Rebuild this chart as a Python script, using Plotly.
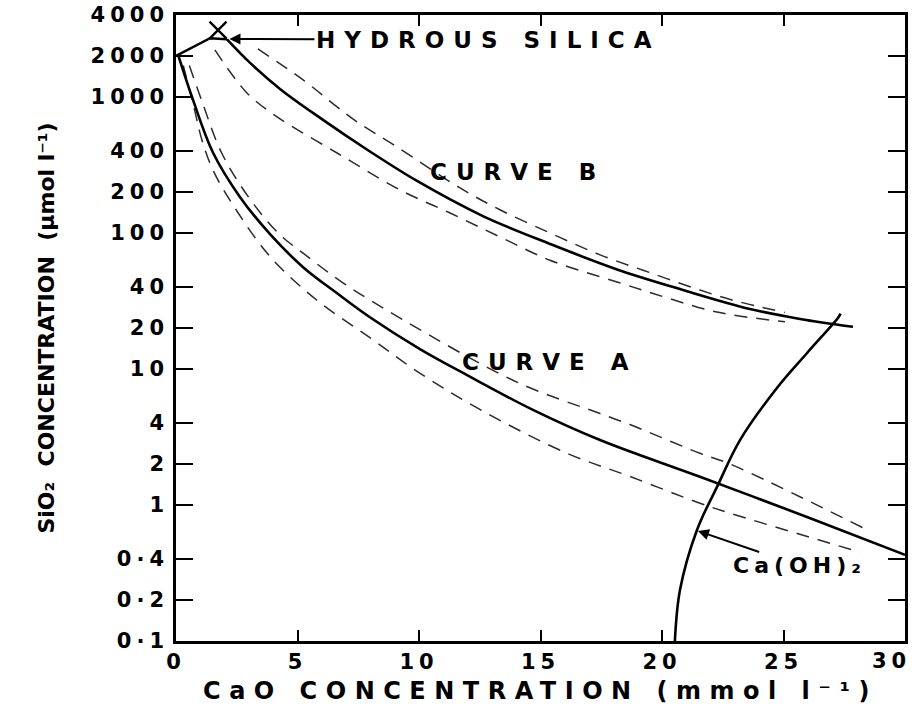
import math
import plotly.graph_objects as go

FONT = "DejaVu Sans"

# CaO concentration (mmol/l) vs SiO2 concentration (µmol/l)

# Curve A and its two dashed bounds
curve_a_x = [0.10, 0.70, 1.52, 2.63, 3.87, 5.23, 6.63, 7.98, 10.04, 11.98, 14.69, 17.45, 21.56, 26.10, 30.00]
curve_a_y = [2000, 950, 390, 184, 98, 56, 36, 24, 14.0, 9.0, 5.0, 3.0, 1.61, 0.80, 0.43]
curve_a_upper_x = [0.55, 1.05, 1.87, 2.98, 4.25, 5.23, 6.87, 9.34, 14.03, 17.45, 18.68, 21.56, 22.80, 28.27]
curve_a_upper_y = [1700, 950, 390, 184, 98, 71, 43, 23, 8.0, 4.7, 3.9, 2.4, 2.0, 0.68]
curve_a_lower_x = [0.30, 0.75, 1.07, 1.52, 2.35, 3.87, 5.80, 7.98, 9.92, 12.63, 16.09, 18.68, 21.56, 22.80, 28.15]
curve_a_lower_y = [1700, 820, 480, 290, 160, 67, 32, 17, 9.6, 4.9, 2.4, 1.62, 1.03, 0.87, 0.45]

# Curve B and its two dashed bounds
curve_b_x = [2.10, 3.05, 4.28, 5.93, 7.98, 9.92, 12.63, 15.39, 18.15, 20.86, 23.62, 25.68, 27.86]
curve_b_y = [2650, 1778, 1145, 701, 397, 241, 133, 83, 53.9, 38.1, 27.6, 23.3, 20.4]
curve_b_upper_x = [3.37, 5.23, 6.63, 7.45, 9.09, 11.69, 13.33, 15.39, 17.45, 19.51, 21.56, 22.92, 25.06]
curve_b_upper_y = [2250, 1334, 844, 655, 429, 214, 148, 100, 69, 51, 38, 32, 26]
curve_b_lower_x = [1.60, 2.92, 4.16, 6.63, 9.22, 11.28, 13.33, 15.39, 18.15, 20.21, 22.26, 25.06]
curve_b_lower_y = [2218, 1070, 713, 387, 207, 140, 93.5, 63, 43.6, 33.3, 26.2, 22.2]

# Hydrous silica solubility branch, running into the top of curve B
silica_x = [0.0, 1.40, 2.10]
silica_y = [2000, 2700, 2650]
silica_point_x = [1.73]
silica_point_y = [3100]

# Ca(OH)2 solubility curve
caoh2_x = [20.53, 20.74, 21.44, 22.30, 23.21, 24.73, 25.97, 27.24, 27.35]
caoh2_y = [0.1, 0.237, 0.655, 1.40, 3.0, 7.25, 13.1, 23.7, 25.5]

# Axis ticks
x_ticks = [0, 5, 10, 15, 20, 25]
x_last_tick = 30
y_ticks = [0.1, 0.2, 0.4, 1, 2, 4, 10, 20, 40, 100, 200, 400, 1000, 2000, 4000]
y_tick_text = ["0·1", "0·2", "0·4", "1", "2", "4", "10", "20", "40",
               "100", "200", "400", "1000", "2000", "4000"]


def spaced(text, gap):
    return f"<span style='letter-spacing:{gap}px'>{text}</span>"


fig = go.Figure()


def add_line(x, y, dashed=False, shape="spline"):
    fig.add_trace(go.Scatter(
        x=x, y=y, mode="lines",
        line=dict(
            color="#2b2b2b" if dashed else "black",
            width=1.5 if dashed else 2.6,
            dash="13px,9px" if dashed else "solid",
            shape=shape, smoothing=1.0 if shape == "spline" else None,
        ),
        hoverinfo="skip", showlegend=False,
    ))


add_line(curve_a_upper_x, curve_a_upper_y, dashed=True)
add_line(curve_a_lower_x, curve_a_lower_y, dashed=True)
add_line(curve_b_upper_x, curve_b_upper_y, dashed=True)
add_line(curve_b_lower_x, curve_b_lower_y, dashed=True)
add_line(curve_a_x, curve_a_y)
add_line(curve_b_x, curve_b_y)
add_line(silica_x, silica_y, shape="linear")
add_line(caoh2_x, caoh2_y)

fig.add_trace(go.Scatter(
    x=silica_point_x, y=silica_point_y, mode="markers",
    marker=dict(symbol="x-thin", size=17, line=dict(width=2.4, color="black")),
    hoverinfo="skip", showlegend=False,
))

tick_font = dict(family=FONT, size=21, color="black", weight="bold")
label_font = dict(family=FONT, size=23, color="black", weight="bold")

annotations = [
    dict(x=2.2, y=math.log10(2670), ax=259, ay=1, text=spaced("HYDROUS SILICA", 9),
         showarrow=True, arrowhead=2, arrowsize=1.1, arrowwidth=2, arrowcolor="black",
         font=label_font),
    dict(x=14.05, y=math.log10(281), text=spaced("CURVE B", 9),
         showarrow=False, font=label_font, xanchor="center", yanchor="middle"),
    dict(x=15.4, y=math.log10(11.25), text=spaced("CURVE A", 9),
         showarrow=False, font=label_font, xanchor="center", yanchor="middle"),
    dict(x=21.48, y=math.log10(0.644), ax=102, ay=35, text=spaced("Ca(OH)₂", 5),
         showarrow=True, arrowhead=2, arrowsize=1.1, arrowwidth=2, arrowcolor="black",
         font=dict(family=FONT, size=22, color="black", weight="bold")),
    # last x tick label, kept inside the page edge
    dict(x=x_last_tick, y=0, yref="paper", text=spaced(str(x_last_tick), 5),
         showarrow=False, xanchor="right", yanchor="top", xshift=8, yshift=-6,
         font=tick_font),
]

axis_common = dict(
    showline=True, linewidth=2.6, linecolor="black", mirror="ticks",
    ticks="inside", tickwidth=2.4, tickcolor="black",
    showgrid=False, zeroline=False,
    tickfont=tick_font,
)

fig.update_xaxes(
    range=[0, 30], tickvals=x_ticks,
    ticktext=[spaced(str(v), 5) for v in x_ticks],
    ticklen=11,
    title=dict(text=spaced("CaO CONCENTRATION (mmol l⁻¹)", 8.5),
               font=dict(family=FONT, size=24, color="black", weight="bold"),
               standoff=10),
    **axis_common,
)
fig.update_yaxes(
    type="log", range=[-1, math.log10(4000)], tickvals=y_ticks,
    ticktext=[spaced(t, 5) for t in y_tick_text],
    ticklen=17,
    title=dict(text="SiO₂  CONCENTRATION  (µmol l⁻¹)",
               font=dict(family=FONT, size=22, color="black", weight="bold"),
               standoff=30),
    **axis_common,
)

fig.update_layout(
    width=912, height=707,
    margin=dict(l=176, r=7, t=15, b=66, autoexpand=False),
    paper_bgcolor="white", plot_bgcolor="white",
    showlegend=False,
    font=dict(family=FONT, color="black"),
    annotations=annotations,
)

fig.write_html("out.html")
